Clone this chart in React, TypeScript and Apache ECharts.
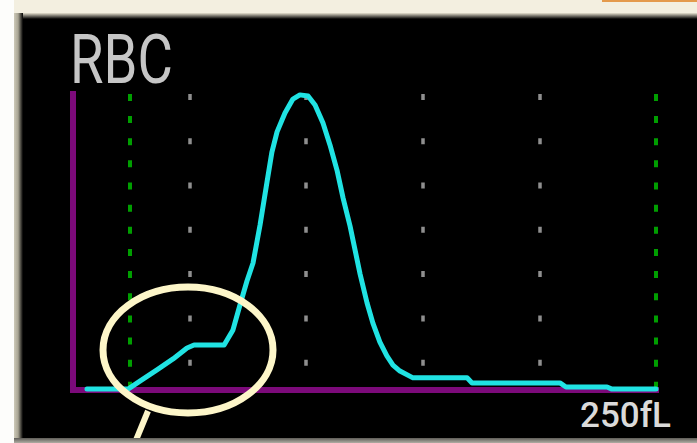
import React, { useEffect, useRef } from "react";
import * as echarts from "echarts";

// RBC histogram: cell volume (fL) vs relative count
const sizeFL = [6, 23.6, 28.7, 36, 42.9, 48.9, 51.9, 64.8, 68.6, 71.6, 74.6, 77.2, 80.2, 83.2, 85.3, 87.5, 90.9, 94.3, 97.3, 100.8, 103.8, 107.2, 110.2, 113.2, 115.8, 118.8, 123.1, 126.1, 128.6, 131.6, 134.6, 137.2, 140.2, 145.8, 169, 171.1, 208.8, 211.4, 229, 231.1, 250];
const relCount = [0.3, 0.3, 3, 6.8, 10.5, 14.2, 15.2, 15.2, 20.3, 28.7, 36.8, 42.9, 55.7, 70.3, 80.4, 87.2, 93.6, 98.3, 99.7, 99.3, 96.3, 90.2, 82.8, 74.3, 64.9, 55.4, 39.2, 29.4, 22.6, 16.2, 11.5, 8.4, 6.4, 4.1, 4.1, 2.4, 2.4, 1, 1, 0.3, 0.3];
const gridLinesFL = [50, 100, 150, 200];
const discriminatorsFL = [24.5, 250];
const titleText = "RBC";
const unitLabel = "250fL";

export default function App() {
  const ref = useRef<HTMLDivElement>(null);
  useEffect(() => {
    if (!ref.current) return;
    const chart = echarts.init(ref.current, undefined, { renderer: "svg" });
    const data = sizeFL.map((x, i) => [x, relCount[i]]);
    const purple = "#7c0a7a";
    const markData: any[] = [
      ...gridLinesFL.map((v) => ({
        xAxis: v,
        lineStyle: { color: "#8f8f8f", width: 3.5, type: [6, 38.3], dashOffset: 20.3 },
      })),
      ...discriminatorsFL.map((v) => ({
        xAxis: v,
        lineStyle: { color: "#009e00", width: 4, type: [7, 15.15], dashOffset: 20.65 },
      })),
    ];
    chart.setOption({
      animation: false,
      backgroundColor: "#000",
      grid: { left: 73, top: 94, width: 583, height: 296 },
      xAxis: {
        type: "value",
        min: 0,
        max: 250,
        axisLine: { show: true, onZero: false, lineStyle: { color: purple, width: 6, cap: "square" } },
        axisTick: { show: false },
        axisLabel: { show: false },
        splitLine: { show: false },
      },
      yAxis: {
        type: "value",
        min: 0,
        max: 100,
        axisLine: { show: true, onZero: false, lineStyle: { color: purple, width: 6, cap: "square" } },
        axisTick: { show: false },
        axisLabel: { show: false },
        splitLine: { show: false },
      },
      series: [
        {
          type: "line",
          data: [],
          silent: true,
          markLine: {
            silent: true,
            symbol: ["none", "none"],
            label: { show: false },
            data: markData,
          },
        },
        {
          type: "line",
          z: 10,
          data,
          showSymbol: false,
          smooth: false,
          lineStyle: { color: "#20e3e3", width: 5, join: "round", cap: "round" },
        },
      ],
      graphic: [
        // frame
        { type: "rect", z: 100, shape: { x: 0, y: 0, width: 697, height: 13 }, style: { fill: "#f3efe0" } },
        {
          type: "rect", z: 100, shape: { x: 0, y: 13, width: 697, height: 6 },
          style: { fill: new echarts.graphic.LinearGradient(0, 0, 0, 1, [{ offset: 0, color: "#e6e1cf" }, { offset: 1, color: "#000" }]) },
        },
        { type: "rect", z: 100, shape: { x: 0, y: 0, width: 14, height: 443 }, style: { fill: "#fdfdfb" } },
        {
          type: "rect", z: 100, shape: { x: 14, y: 13, width: 9, height: 430 },
          style: { fill: new echarts.graphic.LinearGradient(0, 0, 1, 0, [{ offset: 0, color: "#cdc9b8" }, { offset: 0.45, color: "#a9a594" }, { offset: 1, color: "#000" }]) },
        },
        {
          type: "rect", z: 100, shape: { x: 14, y: 438, width: 683, height: 5 },
          style: { fill: new echarts.graphic.LinearGradient(0, 0, 0, 1, [{ offset: 0, color: "#5e5c57" }, { offset: 1, color: "#b0ada3" }]) },
        },
        { type: "rect", z: 101, shape: { x: 602, y: 0, width: 95, height: 2 }, style: { fill: "#e49a4c" } },
        // labels
        {
          type: "text", z: 50, x: 70, y: 60, scaleX: 0.8,
          style: { text: titleText, font: "68px Roboto", fill: "#c6c6c6", textVerticalAlign: "middle", textAlign: "left" },
        },
        {
          type: "text", z: 50, x: 580, y: 415,
          style: { text: unitLabel, font: "500 35px Roboto", fill: "#dadada", textVerticalAlign: "middle", textAlign: "left" },
        },
        // annotation
        {
          type: "ellipse", z: 60, shape: { cx: 188, cy: 350, rx: 85, ry: 63 },
          style: { fill: "none", stroke: "#fdf6c9", lineWidth: 7 },
        },
        {
          type: "line", z: 60, shape: { x1: 148, y1: 411, x2: 134, y2: 445 },
          style: { stroke: "#fdf6c9", lineWidth: 6 },
        },
      ],
    });
    return () => chart.dispose();
  }, []);
  return <div ref={ref} style={{ position: "absolute", left: 0, top: 0, width: 697, height: 443 }} />;
}
